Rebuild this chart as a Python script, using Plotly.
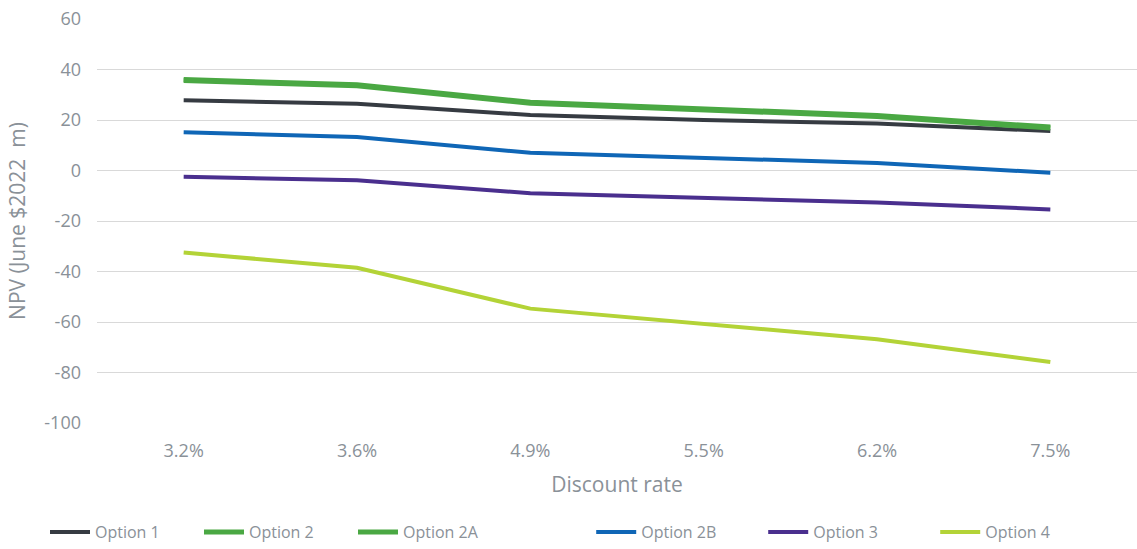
import plotly.graph_objects as go

rates = ["3.2%", "3.6%", "4.9%", "5.5%", "6.2%", "7.5%"]
option1 = [27.8, 26.4, 22.0, 20.0, 18.6, 15.6]
option2 = [36.0, 34.0, 27.0, 24.5, 21.8, 17.2]
option2a = [35.6, 33.6, 26.6, 24.1, 21.4, 16.8]
option2b = [15.1, 13.3, 7.0, 5.0, 3.0, -0.9]
option3 = [-2.5, -3.9, -9.0, -10.8, -12.7, -15.4]
option4 = [-32.5, -38.5, -54.7, -60.9, -66.8, -75.8]
ytick_vals = [-100, -80, -60, -40, -20, 0, 20, 40, 60]
ytick_text = ["-100", "-80", "-60", "-40", "-20", "0", "20", "40", "60"]

series = [
    ("Option 1", option1, "#363b42", 4, "legend"),
    ("Option 2", option2, "#4aa843", 5, "legend"),
    ("Option 2A", option2a, "#4aa843", 5, "legend"),
    ("Option 2B", option2b, "#0f66b6", 4, "legend2"),
    ("Option 3", option3, "#4a2f8e", 4, "legend2"),
    ("Option 4", option4, "#b3d337", 4, "legend2"),
]

fig = go.Figure()
for name, vals, color, w, lg in series:
    fig.add_trace(go.Scatter(x=rates, y=vals, name=name, mode="lines",
                             line=dict(color=color, width=w), legend=lg))

fontc = "#8a9198"
leg_common = dict(orientation="h", yanchor="middle", y=-0.269, xanchor="left",
                  font=dict(size=16, color=fontc), itemwidth=40,
                  entrywidthmode="pixels", bgcolor="rgba(0,0,0,0)")
fig.update_layout(
    width=1137, height=549,
    margin=dict(l=97, r=0, t=19, b=125),
    paper_bgcolor="white", plot_bgcolor="white",
    font=dict(family="Open Sans", color=fontc, size=14),
    xaxis=dict(
        title=dict(text="Discount rate", font=dict(size=21, color=fontc), standoff=16),
        showgrid=False, zeroline=False, showline=False,
        ticks="", tickfont=dict(size=18, color=fontc), range=[-0.5, 5.5],
        ticklabelstandoff=15,
    ),
    yaxis=dict(
        title=dict(text="NPV (June $2022\u00a0 m)", font=dict(size=21, color=fontc), standoff=12),
        range=[-100, 60], tickvals=ytick_vals, ticktext=ytick_text,
        showgrid=True, gridcolor="#d9d9d9", gridwidth=1,
        zeroline=False, showline=False, ticks="",
        tickfont=dict(size=18, color=fontc), ticklabelstandoff=15,
    ),
    legend=dict(**leg_common, x=-0.05, entrywidth=99),
    legend2=dict(**leg_common, x=0.4752, entrywidth=117),
)

fig.write_html("out.html")
